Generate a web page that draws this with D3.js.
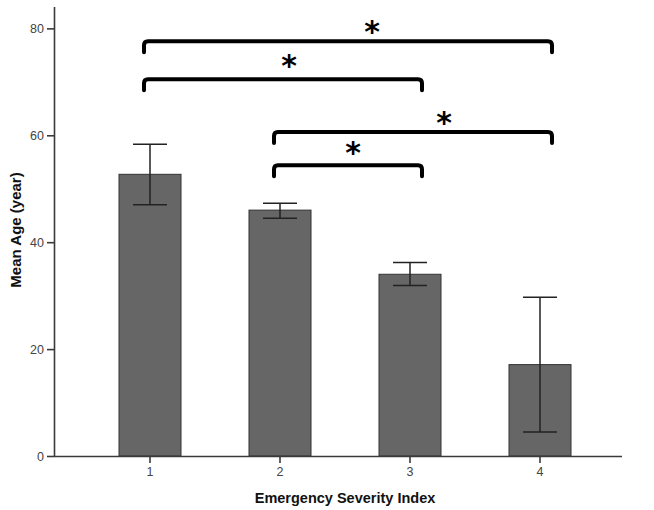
<!DOCTYPE html>
<html><head><meta charset="utf-8">
<script src="https://cdn.jsdelivr.net/npm/d3@7"></script>
<style>body{margin:0;background:#fff}svg{display:block}</style>
</head><body>
<svg id="c" width="654" height="510"></svg>
<script>
const categories = ["1","2","3","4"];
const means = [52.7, 46.0, 34.0, 17.1];
const errLow = [47.0, 44.5, 31.9, 4.5];
const errHigh = [58.3, 47.3, 36.2, 29.7];
const yTicks = [0, 20, 40, 60, 80];
// significance brackets: [from category, to category, bracket height (data units)]
const bracketFrom = ["1","1","2","2"];
const bracketTo = ["4","3","4","3"];
const bracketY = [77.6, 70.5, 60.6, 54.4];
const bracketLabel = ["*","*","*","*"];

// layout tweaks for the star labels (pixels)
const starDx = [24, 6, 31, 5];
const starDy = [-14, -18, -14, -17];

const svg = d3.select("#c");
const y = d3.scaleLinear().domain([0, 84]).range([456, 7]);
const x = d3.scaleBand().domain(categories).range([85, 605]).paddingInner(0.523).paddingOuter(0.2615);
const cx = d => x(d) + x.bandwidth()/2;

// bars
svg.selectAll("rect.bar").data(categories).join("rect")
  .attr("x", d => x(d)).attr("width", x.bandwidth())
  .attr("y", (d,i) => y(means[i])).attr("height", (d,i) => y(0) - y(means[i]))
  .attr("fill", "#666666").attr("stroke", "#333").attr("stroke-width", 1);

// error bars
const eg = svg.append("g").attr("stroke", "#222").attr("stroke-width", 1.5);
categories.forEach((c, i) => {
  eg.append("line").attr("x1", cx(c)).attr("x2", cx(c)).attr("y1", y(errLow[i])).attr("y2", y(errHigh[i]));
  eg.append("line").attr("x1", cx(c)-17).attr("x2", cx(c)+17).attr("y1", y(errLow[i])).attr("y2", y(errLow[i]));
  eg.append("line").attr("x1", cx(c)-17).attr("x2", cx(c)+17).attr("y1", y(errHigh[i])).attr("y2", y(errHigh[i]));
});

// axes
const yAxis = d3.axisLeft(y).tickValues(yTicks).tickSize(7).tickPadding(3);
const ga = svg.append("g").attr("transform", "translate(54,0)").call(yAxis);
const xAxis = d3.axisBottom(x).tickSize(7).tickPadding(4);
const gx = svg.append("g").attr("transform", "translate(0,456)").call(xAxis);
gx.select(".domain").attr("d", "M54,0.5H622");
[ga, gx].forEach(g => {
  g.selectAll(".domain").attr("stroke", "#3a3a3a").attr("stroke-width", 1.6);
  g.selectAll(".tick line").attr("stroke", "#3a3a3a").attr("stroke-width", 1.6);
  g.selectAll(".tick text").attr("fill", "#444").attr("font-family", "Liberation Sans, Arial, sans-serif").attr("font-size", 12.5);
});
ga.select(".domain").attr("d", "M0.5,456V7");

// brackets
const bg = svg.append("g");
bracketFrom.forEach((f, i) => {
  const x1 = cx(f) - 6, x2 = cx(bracketTo[i]) + 12, yy = y(bracketY[i]), drop = 11, r = 4;
  bg.append("path")
    .attr("d", `M${x1},${yy+drop}V${yy+r}Q${x1},${yy} ${x1+r},${yy}H${x2-r}Q${x2},${yy} ${x2},${yy+r}V${yy+drop}`)
    .attr("fill", "none").attr("stroke", "#000").attr("stroke-width", 4).attr("stroke-linecap", "round");
  bg.append("text").attr("x", (x1 + x2)/2 + starDx[i]).attr("y", yy + starDy[i] + 15)
    .attr("text-anchor", "middle").attr("font-family", "DejaVu Sans, sans-serif")
    .attr("font-weight", "bold").attr("font-size", 30).attr("fill", "#000").text(bracketLabel[i]);
});

// labels
svg.append("text").attr("x", 345).attr("y", 503).attr("text-anchor", "middle")
  .attr("font-family", "Liberation Sans, Arial, sans-serif").attr("font-weight", "bold")
  .attr("font-size", 14.5).attr("fill", "#111").text("Emergency Severity Index");
svg.append("text").attr("transform", "translate(21,230) rotate(-90)").attr("text-anchor", "middle")
  .attr("font-family", "Liberation Sans, Arial, sans-serif").attr("font-weight", "bold")
  .attr("font-size", 15).attr("fill", "#111").text("Mean Age (year)");
</script>
</body></html>
